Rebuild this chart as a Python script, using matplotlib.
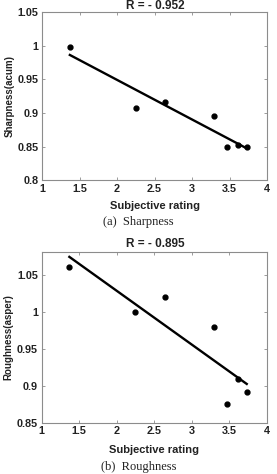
import numpy as np
import matplotlib.pyplot as plt

plt.rcParams['font.family'] = ['Liberation Sans', 'DejaVu Sans']

# Subjective ratings (shared by both panels)
rating = [1.37, 2.25, 2.64, 3.29, 3.47, 3.61, 3.73]
sharpness = [0.998, 0.908, 0.917, 0.896, 0.849, 0.852, 0.850]
roughness = [1.060, 1.000, 1.020, 0.979, 0.876, 0.910, 0.892]

panels = [
    dict(y=sharpness, ylabel='Sharpness(acum)', title='R = - 0.952',
         caption='(a)  Sharpness', ylim=(0.8, 1.05),
         yticks=[0.8, 0.85, 0.9, 0.95, 1, 1.05],
         ytl=['0.8', '0.85', '0.9', '0.95', '1', '1.05'],
         rect=[0.152, 0.620, 0.812, 0.354], title_y=1.0, cap_y=0.532,
         xl_y=-0.125, yl_x=-0.12),
    dict(y=roughness, ylabel='Roughness(asper)', title='R = - 0.895',
         caption='(b)  Roughness', ylim=(0.85, 1.081),
         yticks=[0.85, 0.9, 0.95, 1, 1.05],
         ytl=['0.85', '0.9', '0.95', '1', '1.05'],
         rect=[0.150, 0.1076, 0.814, 0.361], title_y=0.497, cap_y=0.014,
         xl_y=-0.13, yl_x=-0.124),
]

fig = plt.figure(figsize=(2.77, 4.74), dpi=100)
grey = '#8c8c8c'

for p in panels:
    ax = fig.add_axes(p['rect'])
    x = np.array(rating)
    y = np.array(p['y'])
    # least squares fit line
    k, b = np.polyfit(x, y, 1)
    xf = np.array([x.min(), x.max()])
    ax.plot(xf, k * xf + b, color='black', lw=1.7)
    ax.plot(x, y, 'o', color='black', ms=3.5)

    ax.set_xlim(1, 4)
    ax.set_ylim(*p['ylim'])
    ax.set_xticks([1, 1.5, 2, 2.5, 3, 3.5, 4])
    ax.set_xticklabels(['1', '1.5', '2', '2.5', '3', '3.5', '4'])
    ax.set_yticks(p['yticks'])
    ax.set_yticklabels(p['ytl'])
    ax.tick_params(direction='in', top=True, right=True, length=2.5,
                   width=0.6, color=grey, labelsize=7.8, pad=2.5)
    for lab in ax.get_xticklabels() + ax.get_yticklabels():
        lab.set_fontweight('bold')
        lab.set_color('#222222')
    for s in ax.spines.values():
        s.set_color(grey)
        s.set_linewidth(0.8)

    ax.set_xlabel('Subjective rating', fontsize=8, fontweight='bold',
                  color='#222222')
    ax.xaxis.set_label_coords(0.5, p['xl_y'])
    ax.set_ylabel(p['ylabel'], fontsize=7, fontweight='bold', color='#222222')
    ax.yaxis.set_label_coords(p['yl_x'], 0.5)

    fig.text(0.56, p['title_y'], p['title'], ha='center', va='top',
             fontsize=8.5, fontweight='bold', color='#222222')
    fig.text(0.5, p['cap_y'], p['caption'], ha='center', va='center',
             fontsize=9, family='Liberation Serif', color='#222222')

fig.savefig('out.png', dpi=100, facecolor='white')
